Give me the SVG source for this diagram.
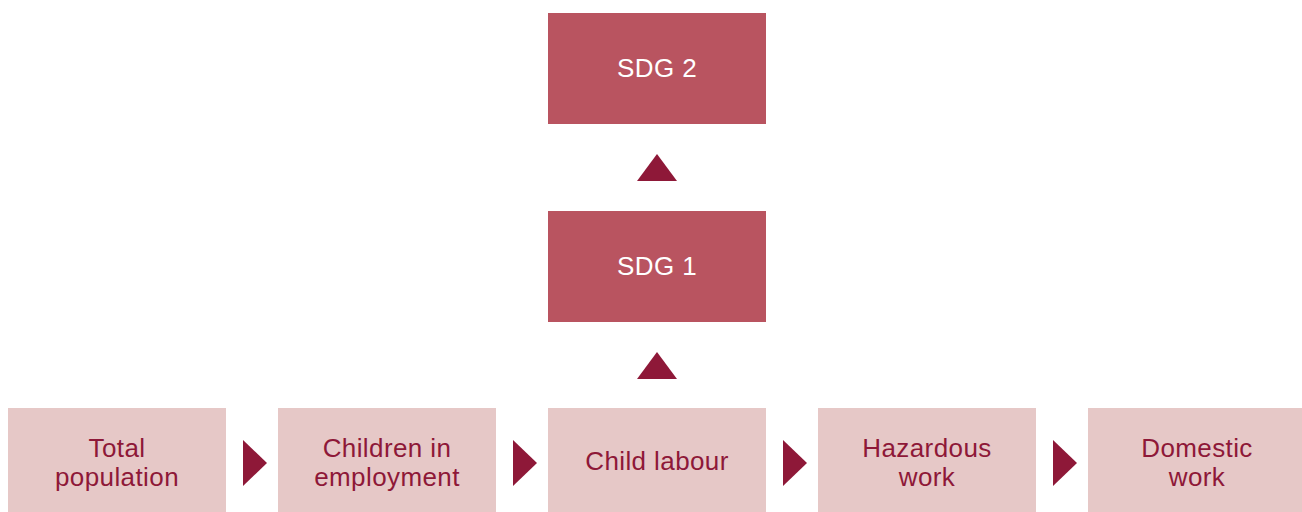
<svg xmlns="http://www.w3.org/2000/svg" width="1302" height="512" viewBox="0 0 1302 512">
<style>
.sdg{fill:#B95460}
.lt{fill:#E6C8C7}
.arr{fill:#8E1838}
.tw{font-family:"Liberation Sans",Arial,sans-serif;font-size:26px;letter-spacing:0.4px;fill:#FFFFFF;text-anchor:middle}
.td{font-family:"Liberation Sans",Arial,sans-serif;font-size:26px;letter-spacing:0.4px;fill:#8E1838;text-anchor:middle}
</style>
<rect width="1302" height="512" fill="#FFFFFF"/>
<g id="sdg2"><rect class="sdg" x="548" y="13" width="218" height="111"/><text class="tw" x="657" y="76.5">SDG 2</text></g>
<g id="sdg1"><rect class="sdg" x="548" y="211" width="218" height="111"/><text class="tw" x="657" y="274.5">SDG 1</text></g>
<g id="total"><rect class="lt" x="8" y="408" width="218" height="104"/><text class="td" x="117" y="457">Total</text><text class="td" x="117" y="486">population</text></g>
<g id="children"><rect class="lt" x="278" y="408" width="218" height="104"/><text class="td" x="387" y="457">Children in</text><text class="td" x="387" y="486">employment</text></g>
<g id="childlabour"><rect class="lt" x="548" y="408" width="218" height="104"/><text class="td" x="657" y="470">Child labour</text></g>
<g id="hazardous"><rect class="lt" x="818" y="408" width="218" height="104"/><text class="td" x="927" y="457">Hazardous</text><text class="td" x="927" y="486">work</text></g>
<g id="domestic"><rect class="lt" x="1088" y="408" width="214" height="104"/><text class="td" x="1197" y="457">Domestic</text><text class="td" x="1197" y="486">work</text></g>
<g id="connectors">
<polygon class="arr" points="637,181 677,181 657,154"/>
<polygon class="arr" points="637,379 677,379 657,352"/>
<polygon class="arr" points="243,440 243,486 267,463"/>
<polygon class="arr" points="513,440 513,486 537,463"/>
<polygon class="arr" points="783,440 783,486 807,463"/>
<polygon class="arr" points="1053,440 1053,486 1077,463"/>
</g>
</svg>
